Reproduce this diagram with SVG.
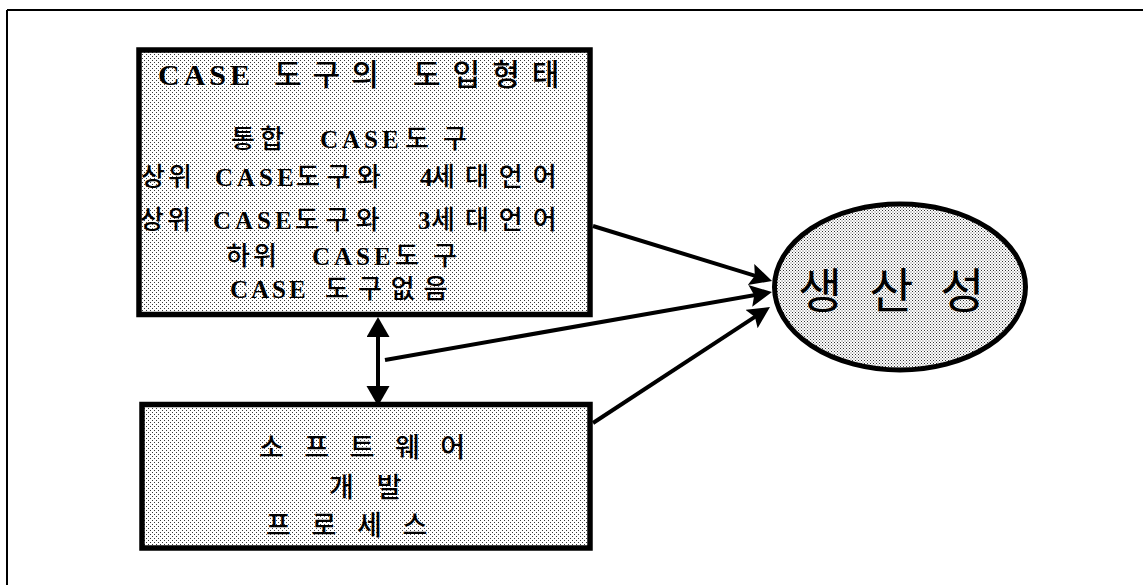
<svg xmlns="http://www.w3.org/2000/svg" width="1143" height="585" viewBox="0 0 1143 585">
<style>
.box{stroke:#000;stroke-width:5.5;fill:url(#dots)}
.ell{stroke:#000;stroke-width:5;fill:url(#dots2)}
.conn{stroke:#000;stroke-width:4;fill:none}
.t{font-family:"Liberation Serif","Noto Sans CJK KR",serif;fill:#000}
.k{font-family:"Noto Sans CJK KR","Liberation Serif",sans-serif;font-weight:500}
.kn{font-family:"Noto Sans CJK KR","Liberation Serif",sans-serif;font-weight:400}
.l{font-family:"Liberation Serif",serif;font-weight:bold}
.s{font-size:26px}
</style>
<defs>
<pattern id="dots" width="4" height="4" patternUnits="userSpaceOnUse">
<rect width="4" height="4" fill="#fff"/>
<rect x="0" y="0" width="1" height="1" fill="#3a3a3a"/>
<rect x="2" y="2" width="1" height="1" fill="#3a3a3a"/>
</pattern>
<pattern id="dots2" width="3" height="3" patternUnits="userSpaceOnUse">
<rect width="3" height="3" fill="#fff"/>
<rect x="0" y="0" width="1" height="1" fill="#333"/>
<rect x="1.5" y="1.5" width="1" height="1" fill="#555"/>
</pattern>
<marker id="ah" markerUnits="userSpaceOnUse" markerWidth="24" markerHeight="24" refX="12" refY="11.5" orient="auto-start-reverse" viewBox="0 0 24 24">
<path d="M0,0 L20,11.5 L0,23 Z" fill="#000"/>
</marker>
<marker id="ahn" markerUnits="userSpaceOnUse" markerWidth="24" markerHeight="24" refX="14" refY="11" orient="auto" viewBox="0 0 24 24">
<path d="M0,0 L22,11 L0,22 L4,11 Z" fill="#000"/>
</marker>
</defs>
<rect width="1143" height="585" fill="#fff"/>
<g id="frame">
<path d="M7,10 H1143 M7,10 V585" stroke="#000" stroke-width="2" fill="none"/>
</g>
<g id="connectors">
<path class="conn" d="M378,325 V398" marker-start="url(#ah)" marker-end="url(#ah)"/>
<path class="conn" d="M593,226 L764.4,278.6" marker-end="url(#ahn)"/>
<path class="conn" d="M385,360 L764.1,293.4" marker-end="url(#ahn)"/>
<path class="conn" d="M593,423 L763.3,311.4" marker-end="url(#ahn)"/>
</g>
<g id="node-case">
<rect class="box" x="139" y="50" width="451" height="264.5"/>
<text class="t" y="85" font-size="30"><tspan class="l" x="158" letter-spacing="4">CASE</tspan><tspan class="k" x="274" letter-spacing="11">도구의</tspan><tspan class="k" x="413" letter-spacing="12">도입형태</tspan></text>
<text class="t" y="148" font-size="25"><tspan class="k s" x="231" letter-spacing="5">통합</tspan><tspan class="l" x="320" letter-spacing="4">CASE</tspan><tspan class="k s" x="405" letter-spacing="14">도구</tspan></text>
<text class="t" y="186" font-size="25"><tspan class="k s" x="141" letter-spacing="3">상위</tspan><tspan class="l" x="215" letter-spacing="4">CASE</tspan><tspan class="k s" x="296" letter-spacing="6.5">도구와</tspan><tspan class="l" x="420">4</tspan><tspan class="k s" x="431" letter-spacing="10">세대언어</tspan></text>
<text class="t" y="229" font-size="25"><tspan class="k s" x="140" letter-spacing="3">상위</tspan><tspan class="l" x="213" letter-spacing="4">CASE</tspan><tspan class="k s" x="295" letter-spacing="6.5">도구와</tspan><tspan class="l" x="418">3</tspan><tspan class="k s" x="431" letter-spacing="10">세대언어</tspan></text>
<text class="t" y="265" font-size="25"><tspan class="k s" x="226" letter-spacing="3">하위</tspan><tspan class="l" x="312" letter-spacing="4">CASE</tspan><tspan class="k s" x="395" letter-spacing="14">도구</tspan></text>
<text class="t" y="298" font-size="25"><tspan class="l" x="230" letter-spacing="3">CASE</tspan><tspan class="k s" x="325" letter-spacing="9">도구없음</tspan></text>
</g>
<g id="node-process">
<rect class="box" x="142" y="404.5" width="448" height="143.5"/>
<text class="t k" x="259" y="457" font-size="27" letter-spacing="20.5">소프트웨어</text>
<text class="t k" x="329" y="497" font-size="27" letter-spacing="23">개발</text>
<text class="t k" x="266" y="535" font-size="27" letter-spacing="20.7">프로세스</text>
</g>
<g id="node-productivity">
<ellipse class="ell" cx="900" cy="287" rx="125.5" ry="83"/>
<text class="t kn" x="798" y="308" font-size="48" letter-spacing="27">생산성</text>
</g>
</svg>
